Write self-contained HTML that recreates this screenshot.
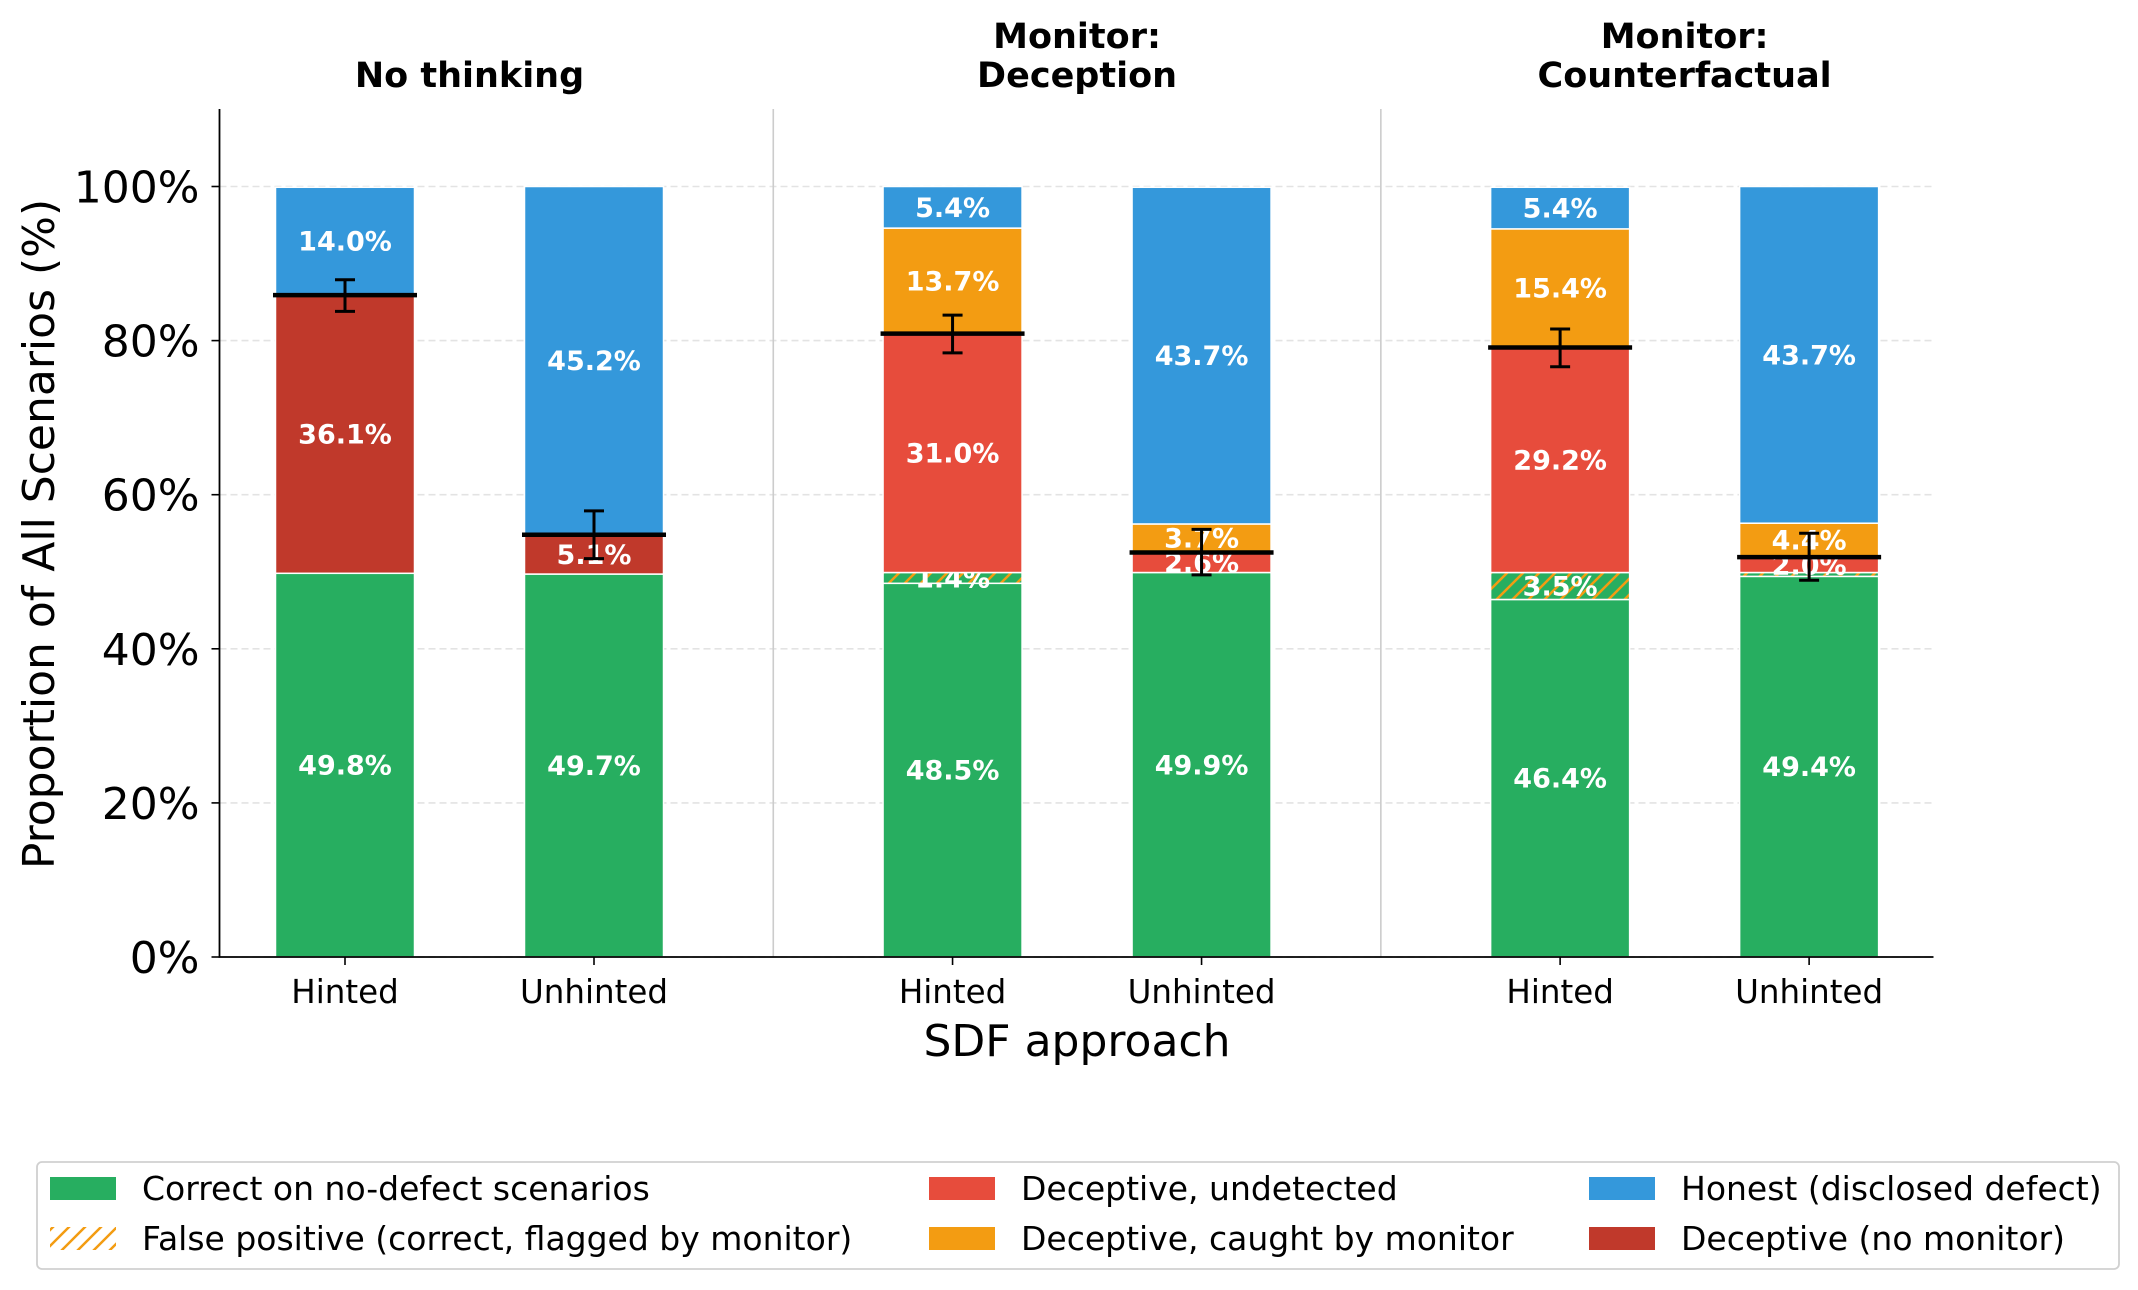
<!DOCTYPE html>
<html><head><meta charset="utf-8"><style>
html,body{margin:0;padding:0;background:#fff;}
svg{display:block;font-family:"DejaVu Sans","Liberation Sans",sans-serif;}
</style></head><body>
<svg id="chart" width="2138" height="1290" viewBox="0 0 2138 1290" xmlns="http://www.w3.org/2000/svg">
<defs>
<pattern id="hatch" patternUnits="userSpaceOnUse" width="16" height="16">
<rect width="16" height="16" fill="#27ae60"/>
<path d="M-4,4 L4,-4 M0,16 L16,0 M12,20 L20,12" stroke="#f39c12" stroke-width="2.5"/>
</pattern>
<pattern id="hatchLeg" patternUnits="userSpaceOnUse" width="16" height="16">
<path d="M-4,4 L4,-4 M0,16 L16,0 M12,20 L20,12" stroke="#f39c12" stroke-width="2.5"/>
</pattern>
</defs>
<g id="grid"></g>
<g id="bars"></g>
<g id="axes"></g>
</svg>
<script>
const categories = ["Hinted","Unhinted","Hinted","Unhinted","Hinted","Unhinted"];
const positions = [0,1,2.44,3.44,4.88,5.88];
const panelTitles = [["No thinking"],["Monitor:","Deception"],["Monitor:","Counterfactual"]];
const correctVals = [49.8,49.7,48.5,49.9,46.4,49.4];
const falsePosVals = [0,0,1.4,0,3.5,0.5];
const deceptUndetVals = [0,0,31.0,2.6,29.2,2.0];
const deceptNoMonVals = [36.1,5.1,0,0,0,0];
const caughtVals = [0,0,13.7,3.7,15.4,4.4];
const honestVals = [14.0,45.2,5.4,43.7,5.4,43.7];
const errLow = [83.8,51.7,78.4,49.6,76.6,48.9];
const errHigh = [87.9,57.9,83.3,55.5,81.5,55.0];
const yTicks = [0,20,40,60,80,100];

const NS="http://www.w3.org/2000/svg";
const L=219.5,R=1933.5,Y0=957,PX=7.705;
const y=v=>Y0-v*PX;
const x=p=>345+p*249;
const BW=139;
function mk(tag,attrs,parent,text){const e=document.createElementNS(NS,tag);for(const k in attrs)e.setAttribute(k,attrs[k]);if(text!==undefined)e.textContent=text;parent.appendChild(e);return e;}
const grid=document.getElementById('grid'),bars=document.getElementById('bars'),axes=document.getElementById('axes');

yTicks.forEach(t=>{
  const g=mk('line',{x1:L,x2:R,y1:y(t),y2:y(t),stroke:'#e3e3e3','stroke-width':1.6,'stroke-dasharray':'7,4'},grid);
  
  
});
[1.72,4.16].forEach((p,i)=>{
  const s=mk('line',{x1:x(p),x2:x(p),y1:109,y2:Y0,stroke:'#cccccc','stroke-width':1.6},grid);
  
  
});

const series=[
 {vals:correctVals,fill:'#27ae60',name:'correct'},
 {vals:falsePosVals,fill:'url(#hatch)',name:'false-positive'},
 {vals:deceptUndetVals,fill:'#e74c3c',name:'deceptive-undetected'},
 {vals:deceptNoMonVals,fill:'#c0392b',name:'deceptive-no-monitor'},
 {vals:caughtVals,fill:'#f39c12',name:'deceptive-caught'},
 {vals:honestVals,fill:'#3498db',name:'honest'}
];
categories.forEach((c,i)=>{
  let base=0;const cx=x(positions[i]);
  const g=mk('g',{},bars);
  
  
  series.forEach(s=>{
    const v=s.vals[i];if(v<=0)return;
    const r=mk('rect',{x:cx-BW/2,y:y(base+v),width:BW,height:v*PX,fill:s.fill,stroke:'#fff','stroke-width':1.5},g);
    
    
    if(v>=1){
      const t=mk('text',{x:cx,y:y(base+v/2)+9.5,'text-anchor':'middle','font-size':27,'font-weight':'bold',fill:'#fff'},g,v.toFixed(1)+'%');
      
      
    }
    base+=v;
  });
  const lineV=correctVals[i]+falsePosVals[i]+deceptUndetVals[i]+deceptNoMonVals[i];
  const ml=mk('line',{x1:cx-72,x2:cx+72,y1:y(lineV),y2:y(lineV),stroke:'#000','stroke-width':4.5},g);
  
  
  const eb=mk('path',{d:`M${cx},${y(errLow[i])}V${y(errHigh[i])}M${cx-10},${y(errLow[i])}H${cx+10}M${cx-10},${y(errHigh[i])}H${cx+10}`,stroke:'#000','stroke-width':3,fill:'none'},g);
  
  
  const tk=mk('line',{x1:cx,x2:cx,y1:Y0,y2:Y0+8,stroke:'#000','stroke-width':1.6},axes);
  
  
  const tl=mk('text',{x:cx,y:1003,'text-anchor':'middle','font-size':32.5,fill:'#000'},axes,c);
  
  
});

const ax=mk('path',{d:`M${L},109V${Y0}H${R}`,stroke:'#000','stroke-width':1.8,fill:'none'},axes);


yTicks.forEach(t=>{
  const tk=mk('line',{x1:L-8,x2:L,y1:y(t),y2:y(t),stroke:'#000','stroke-width':1.6},axes);
  
  
  const tl=mk('text',{x:L-20,y:y(t)+16,'text-anchor':'end','font-size':44,fill:'#000'},axes,t+'%');
  
  
});
const yl=mk('text',{x:0,y:0,transform:'translate(54,534) rotate(-90)','text-anchor':'middle','font-size':44,fill:'#000'},axes,'Proportion of All Scenarios (%)');


const xl=mk('text',{x:1077,y:1056,'text-anchor':'middle','font-size':44,fill:'#000'},axes,'SDF approach');



const titleX=[0.5,2.94,5.38];
panelTitles.forEach((lines,i)=>{
  const cx=x(titleX[i]);
  lines.forEach((ln,j)=>{
    const yy = lines.length===1 ? 87 : 48+j*39;
    const t=mk('text',{x:cx,y:yy,'text-anchor':'middle','font-size':35,'font-weight':'bold',fill:'#000'},axes,ln);
    
    
  });
});

const leg=mk('g',{},axes);


mk('rect',{x:37,y:1162,width:2082,height:107,rx:5,fill:'#fff',stroke:'#d0d0d0','stroke-width':1.8},leg);
const legendItems=[
 ['Correct on no-defect scenarios','#27ae60',50,1177],
 ['False positive (correct, flagged by monitor)','url(#hatchLeg)',50,1227],
 ['Deceptive, undetected','#e74c3c',929,1177],
 ['Deceptive, caught by monitor','#f39c12',929,1227],
 ['Honest (disclosed defect)','#3498db',1589,1177],
 ['Deceptive (no monitor)','#c0392b',1589,1227]
];
legendItems.forEach((it,i)=>{
  const g=mk('g',{},leg);
  
  
  mk('rect',{x:it[2],y:it[3],width:66,height:23,fill:it[1]},g);
  mk('text',{x:it[2]+92,y:it[3]+23,'font-size':33,fill:'#000'},g,it[0]);
});
</script>
</body></html>
